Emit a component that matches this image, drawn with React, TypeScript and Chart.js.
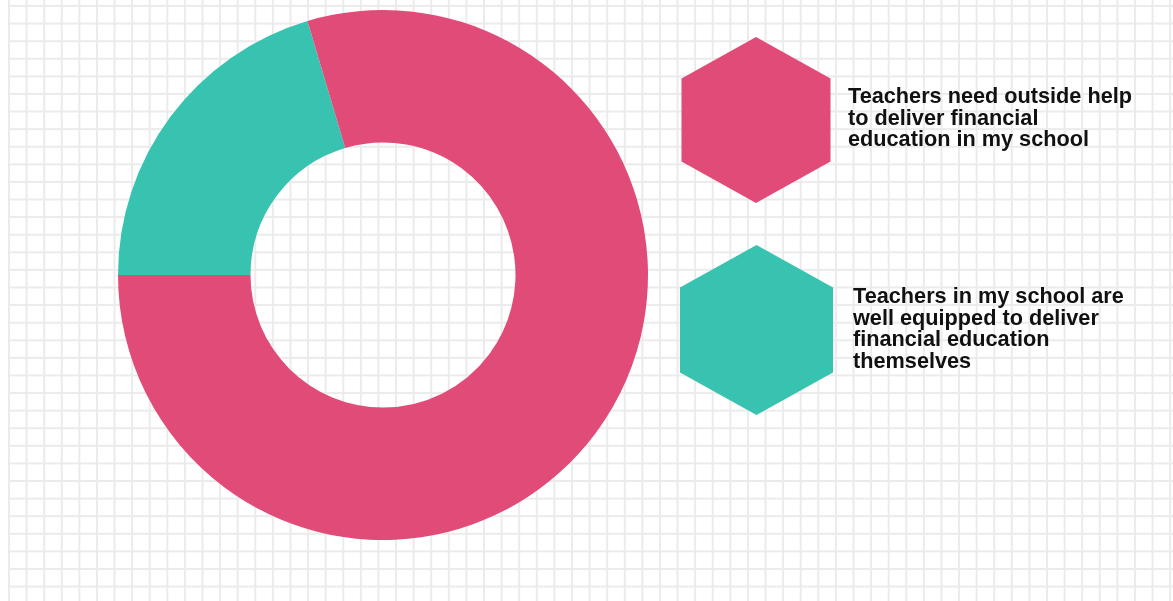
import React, { useEffect, useRef } from "react";
import { Chart, registerables } from "chart.js";

Chart.register(...registerables);

const categories: string[][] = [
  ["Teachers in my school are", "well equipped to deliver", "financial education", "themselves"],
  ["Teachers need outside help", "to deliver financial", "education in my school"],
];
const shares: number[] = [20.4, 79.6];
const colors: string[] = ["#37C3AF", "#E14B78"];

// legend layout (screen positions of each legend entry, listed in display order)
const legendOrder: number[] = [1, 0];
const legendHex = [
  { cx: 756, cy: 120, hw: 74.5, hh: 83, tx: 848, ty: 103 },
  { cx: 756.5, cy: 330, hw: 76.5, hh: 85, tx: 853, ty: 303 },
];

const hexLegend = {
  id: "hexLegend",
  afterDraw(chart: any) {
    const ctx = chart.ctx as CanvasRenderingContext2D;
    const ds = chart.data.datasets[0];
    const labels = chart.data.labels as string[][];
    legendOrder.forEach((idx, i) => {
      const p = legendHex[i];
      ctx.save();
      ctx.fillStyle = ds.backgroundColor[idx];
      ctx.beginPath();
      ctx.moveTo(p.cx, p.cy - p.hh);
      ctx.lineTo(p.cx + p.hw, p.cy - p.hh / 2);
      ctx.lineTo(p.cx + p.hw, p.cy + p.hh / 2);
      ctx.lineTo(p.cx, p.cy + p.hh);
      ctx.lineTo(p.cx - p.hw, p.cy + p.hh / 2);
      ctx.lineTo(p.cx - p.hw, p.cy - p.hh / 2);
      ctx.closePath();
      ctx.fill();
      ctx.fillStyle = "#111111";
      ctx.font = "bold 21.7px 'Liberation Sans', Arial, sans-serif";
      ctx.textBaseline = "alphabetic";
      ctx.textAlign = "left";
      labels[idx].forEach((line, j) => {
        ctx.fillText(line, p.tx, p.ty + j * 21.7);
      });
      ctx.restore();
    });
  },
};

export default function App() {
  const ref = useRef<HTMLCanvasElement | null>(null);
  useEffect(() => {
    if (!ref.current) return;
    const chart = new Chart(ref.current, {
      type: "doughnut",
      data: {
        labels: categories as any,
        datasets: [
          {
            data: shares,
            backgroundColor: colors,
            borderWidth: 0,
            hoverOffset: 0,
          },
        ],
      },
      options: {
        animation: false,
        responsive: false,
        maintainAspectRatio: false,
        cutout: "50%",
        rotation: -90,
        layout: { padding: { left: 118, top: 10, right: 525, bottom: 61 } },
        plugins: {
          legend: { display: false },
          tooltip: { enabled: false },
        },
        events: [],
      },
      plugins: [hexLegend],
    });
    return () => chart.destroy();
  }, []);

  const grid = "#ebebeb";
  return (
    <div
      style={{
        position: "absolute",
        left: 0,
        top: 0,
        width: 1173,
        height: 601,
        background: "#ffffff",
        overflow: "hidden",
      }}
    >
      <div
        style={{
          position: "absolute",
          left: 8,
          top: 0,
          width: 1165,
          height: 601,
          backgroundColor: "#ffffff",
          backgroundImage: `linear-gradient(to right, ${grid} 1.5px, transparent 1.5px), linear-gradient(to bottom, ${grid} 1.5px, transparent 1.5px)`,
          backgroundSize: "17.6px 17.6px",
          backgroundPosition: "0px 5px",
        }}
      />
      <canvas
        ref={ref}
        width={1173}
        height={601}
        style={{ position: "absolute", left: 0, top: 0, width: 1173, height: 601 }}
      />
    </div>
  );
}
